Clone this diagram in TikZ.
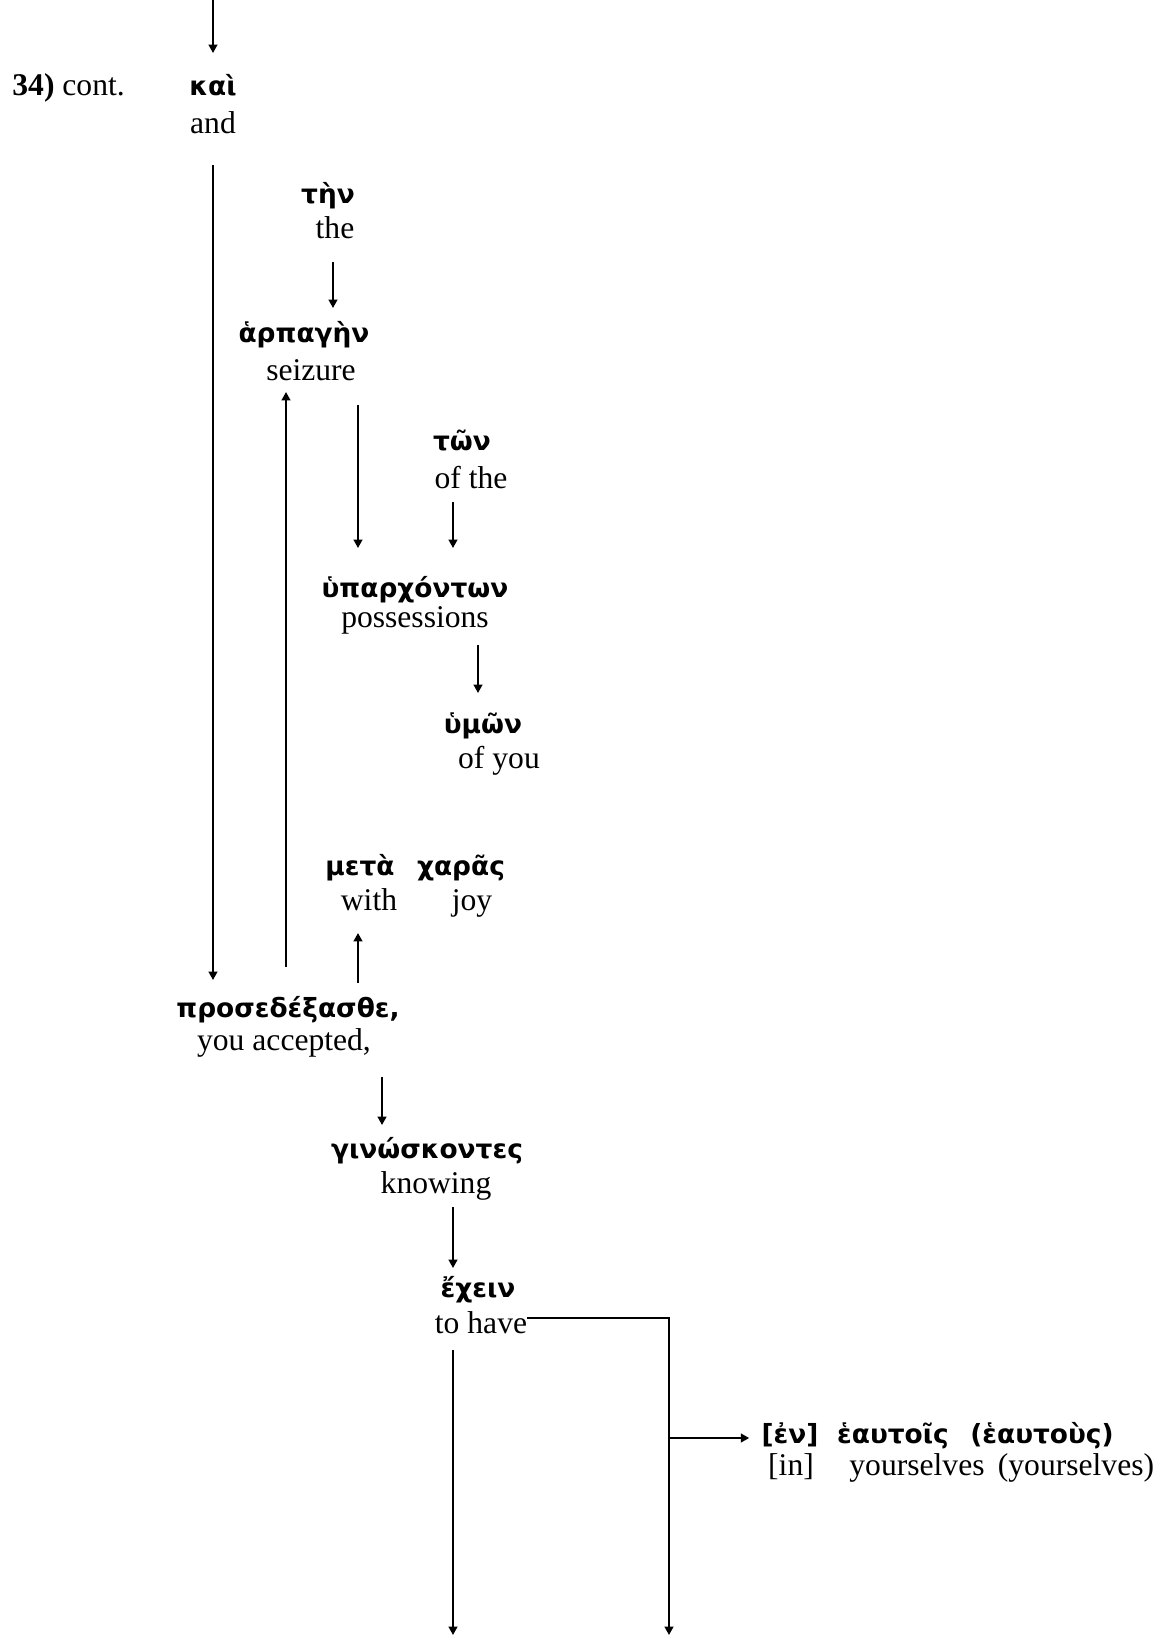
\documentclass[tikz,border=0pt]{standalone}
\usepackage{fontspec}
\setmainfont{Liberation Serif}
\newfontfamily\grk{DejaVu Sans}
\usetikzlibrary{arrows.meta,calc}
\begin{document}
\begin{tikzpicture}[x=0.5pt,y=-0.5pt,
  en/.style={font=\fontsize{15.8}{19}\selectfont, inner sep=0pt, anchor=base},
  gr/.style={font=\grk\bfseries\fontsize{13.2}{16}\selectfont, inner sep=0pt, anchor=base},
  arr/.style={-{Triangle[length=4.2pt,width=4.4pt]}, line width=0.9pt},
  ln/.style={line width=0.9pt}]
\useasboundingbox (0,0) rectangle (1173,1635);

% label
\node[en, anchor=base west] (lbl) at (12,95) {\textbf{34)} cont.};

% words
\node[gr] (kai) at (213,95) {καὶ};
\node[en] (and) at (213,133) {and};
\node[gr] (ten) at (328,203) {τὴν};
\node[en] (the) at (335,238) {the};
\node[gr] (harp) at (304,342) {ἁρπαγὴν};
\node[en] (seiz) at (311,380) {seizure};
\node[gr] (ton) at (462,450) {τῶν};
\node[en] (ofthe) at (471,488) {of the};
\node[gr] (hyp) at (415,597) {ὑπαρχόντων};
\node[en] (poss) at (415,627) {possessions};
\node[gr] (hymon) at (483,733) {ὑμῶν};
\node[en] (ofyou) at (499,768) {of you};
\node[gr] (meta) at (360,875) {μετὰ};
\node[gr] (charas) at (461,875) {χαρᾶς};
\node[en] (with) at (369,910) {with};
\node[en] (joy) at (472,910) {joy};
\node[gr] (pros) at (288,1017) {προσεδέξασθε,};
\node[en] (youacc) at (284,1050) {you accepted,};
\node[gr] (gin) at (427,1158) {γινώσκοντες};
\node[en] (know) at (436,1193) {knowing};
\node[gr] (ech) at (478,1297) {ἔχειν};
\node[en] (tohave) at (481,1333) {to have};
\node[gr] (enn) at (790,1443) {[ἐν]};
\node[gr] (heautois) at (893,1443) {ἑαυτοῖς};
\node[gr] (heautous) at (1042,1443) {(ἑαυτοὺς)};
\node[en] (inn) at (791,1475) {[in]};
\node[en] (yours) at (917,1475) {yourselves};
\node[en] (yours2) at (1076,1475) {(yourselves)};

% free ends
\coordinate (topc) at (213,0);
\coordinate (bot1) at (453,1635);
\coordinate (bot2) at (669,1635);
\coordinate (br) at (669,1438);

% connectors
\draw[arr] (topc) -- ($(kai.base)+(0,-42)$);
\draw[arr] ($(and.base)+(0,32)$) -- ($(pros.base -| and.base)+(0,-37)$);
\draw[arr] ($(the.base)+(-2,24)$) -- ($(harp.base)+(29,-34)$);
\draw[arr] ($(pros.base)+(-2,-50)$) -- ($(seiz.base)+(-25,12)$);
\draw[arr] ($(seiz.base)+(47,25)$) -- ($(hyp.base)+(-57,-49)$);
\draw[arr] ($(ofthe.base)+(-18,14)$) -- ($(hyp.base)+(38,-49)$);
\draw[arr] ($(poss.base)+(63,18)$) -- ($(hymon.base)+(-5,-40)$);
\draw[arr] ($(pros.base)+(70,-34)$) -- ($(with.base)+(-11,23)$);
\draw[arr] ($(youacc.base)+(98,27)$) -- ($(gin.base)+(-45,-33)$);
\draw[arr] ($(know.base)+(17,14)$) -- ($(ech.base)+(-25,-29)$);
\draw[arr] ($(tohave.base)+(-28,17)$) -- (bot1);
\draw[arr] ($(tohave.base east)+(0,-15)$) -| (bot2);
\draw[arr] (br) -- ($(enn.base west)+(-12,-5)$);
\end{tikzpicture}
\end{document}
